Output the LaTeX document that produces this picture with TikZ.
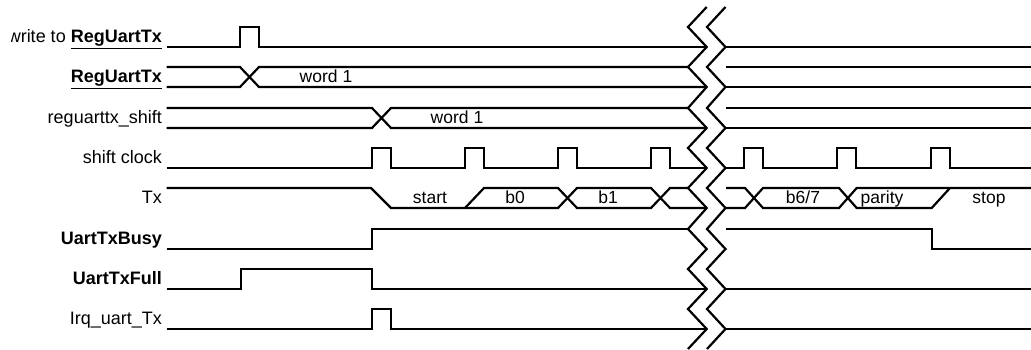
\documentclass[tikz,border=0pt]{standalone}
\usepackage{fontspec}
\setmainfont{Liberation Sans}
\begin{document}
\begin{tikzpicture}[
  x=1pt, y=-1pt,
  sig/.style={line width=2.2pt, line join=miter},
  lbl/.style={anchor=base east, inner sep=0pt, font=\fontsize{18}{20}\selectfont},
  val/.style={anchor=base, inner sep=0pt, font=\fontsize{17.5}{20}\selectfont}
]
\useasboundingbox (0,0) rectangle (1031,350);
\begin{scope}
\clip (11,0) rectangle (170,60);
\node[lbl] (write) at (162,42.5) {write to \textbf{\underline{RegUartTx}}};
\end{scope}
\node[lbl] (reg) at (162,82.5) {\textbf{\underline{RegUartTx}}};
\node[lbl] (shreg) at (162,123.5) {reguarttx\_shift};
\node[lbl] (clk) at (162,163.5) {shift clock};
\node[lbl] (tx) at (162,203.5) {Tx};
\node[lbl] (busy) at (162,244.5) {\textbf{UartTxBusy}};
\node[lbl] (full) at (162,284.5) {\textbf{UartTxFull}};
\node[lbl] (irq) at (162,324.5) {Irq\_uart\_Tx};
\node[val] (word1) at (326,82.5) {word 1};
\node[val] (word2) at (457,123.5) {word 1};
\node[val] (start) at (430,203.5) {start};
\node[val] (b0) at (515,203.5) {b0};
\node[val] (b1) at (608,203.5) {b1};
\node[val] (b67) at (803,203.5) {b6/7};
\node[val] (parity) at (882,203.5) {parity};
\node[val] (stop) at (989,203.5) {stop};
\draw[sig] (166.7,47) -- (240,47) -- (240,27) -- (259,27) -- (259,47) -- (706.7,47);
\draw[sig] (166.7,67) -- (240,67) -- (259,87) -- (706.7,87);
\draw[sig] (166.7,87) -- (240,87) -- (259,67) -- (688,67);
\draw[sig] (166.7,108) -- (372,108) -- (391,128) -- (706.7,128);
\draw[sig] (166.7,128) -- (372,128) -- (391,108) -- (688,108);
\draw[sig] (166.7,168) foreach \p in {372,465,558,651} {
  -- (\p,168) -- (\p,148) -- (\p+19,148) -- (\p+19,168)} -- (706.7,168);
\draw[sig] (166.7,188) -- (371,188) -- (391,208) -- (465,208) -- (484,188) -- (558,188)
  -- (577,208) -- (651,208) -- (670,188) -- (688,188);
\draw[sig] (465,208) -- (558,208) -- (577,188) -- (651,188) -- (670,208) -- (706.7,208);
\draw[sig] (166.7,249) -- (372,249) -- (372,229) -- (688,229);
\draw[sig] (166.7,289) -- (240.7,289) -- (240.7,269) -- (372,269) -- (372,289) -- (706.7,289);
\draw[sig] (166.7,329) -- (372,329) -- (372,309) -- (391,309) -- (391,329) -- (706.7,329);
\draw[sig] (706.7,7) foreach \t/\b in {27/47,67/87,108/128,148/168,188/208,229/249,269/289,309/329} {
  -- (688,\t) -- (706.7,\b)} -- (688,349);
\draw[sig] (725.5,7) foreach \t/\b in {27/47,67/87,108/128,148/168,188/208,229/249,269/289,309/329} {
  -- (707,\t) -- (725.5,\b)} -- (707,349);
\draw[sig] (726,47) -- (1031,47);
\draw[sig] (726,67) -- (1031,67);
\draw[sig] (726,87) -- (1031,87);
\draw[sig] (726,108) -- (1031,108);
\draw[sig] (726,128) -- (1031,128);
\draw[sig] (726,168) foreach \p in {744,837.3,930.7} {
  -- (\p,168) -- (\p,148) -- (\p+19,148) -- (\p+19,168)} -- (1031,168);
\draw[sig] (726,188) -- (745,188) -- (763,208) -- (839,208) -- (856.7,188) -- (1031,188);
\draw[sig] (726,208) -- (745,208) -- (763,188) -- (839,188) -- (856.7,208) -- (931.7,208) -- (950,188);
\draw[sig] (726,229) -- (931.7,229) -- (931.7,249) -- (1031,249);
\draw[sig] (726,289) -- (1031,289);
\draw[sig] (726,329) -- (1031,329);
\end{tikzpicture}
\end{document}
